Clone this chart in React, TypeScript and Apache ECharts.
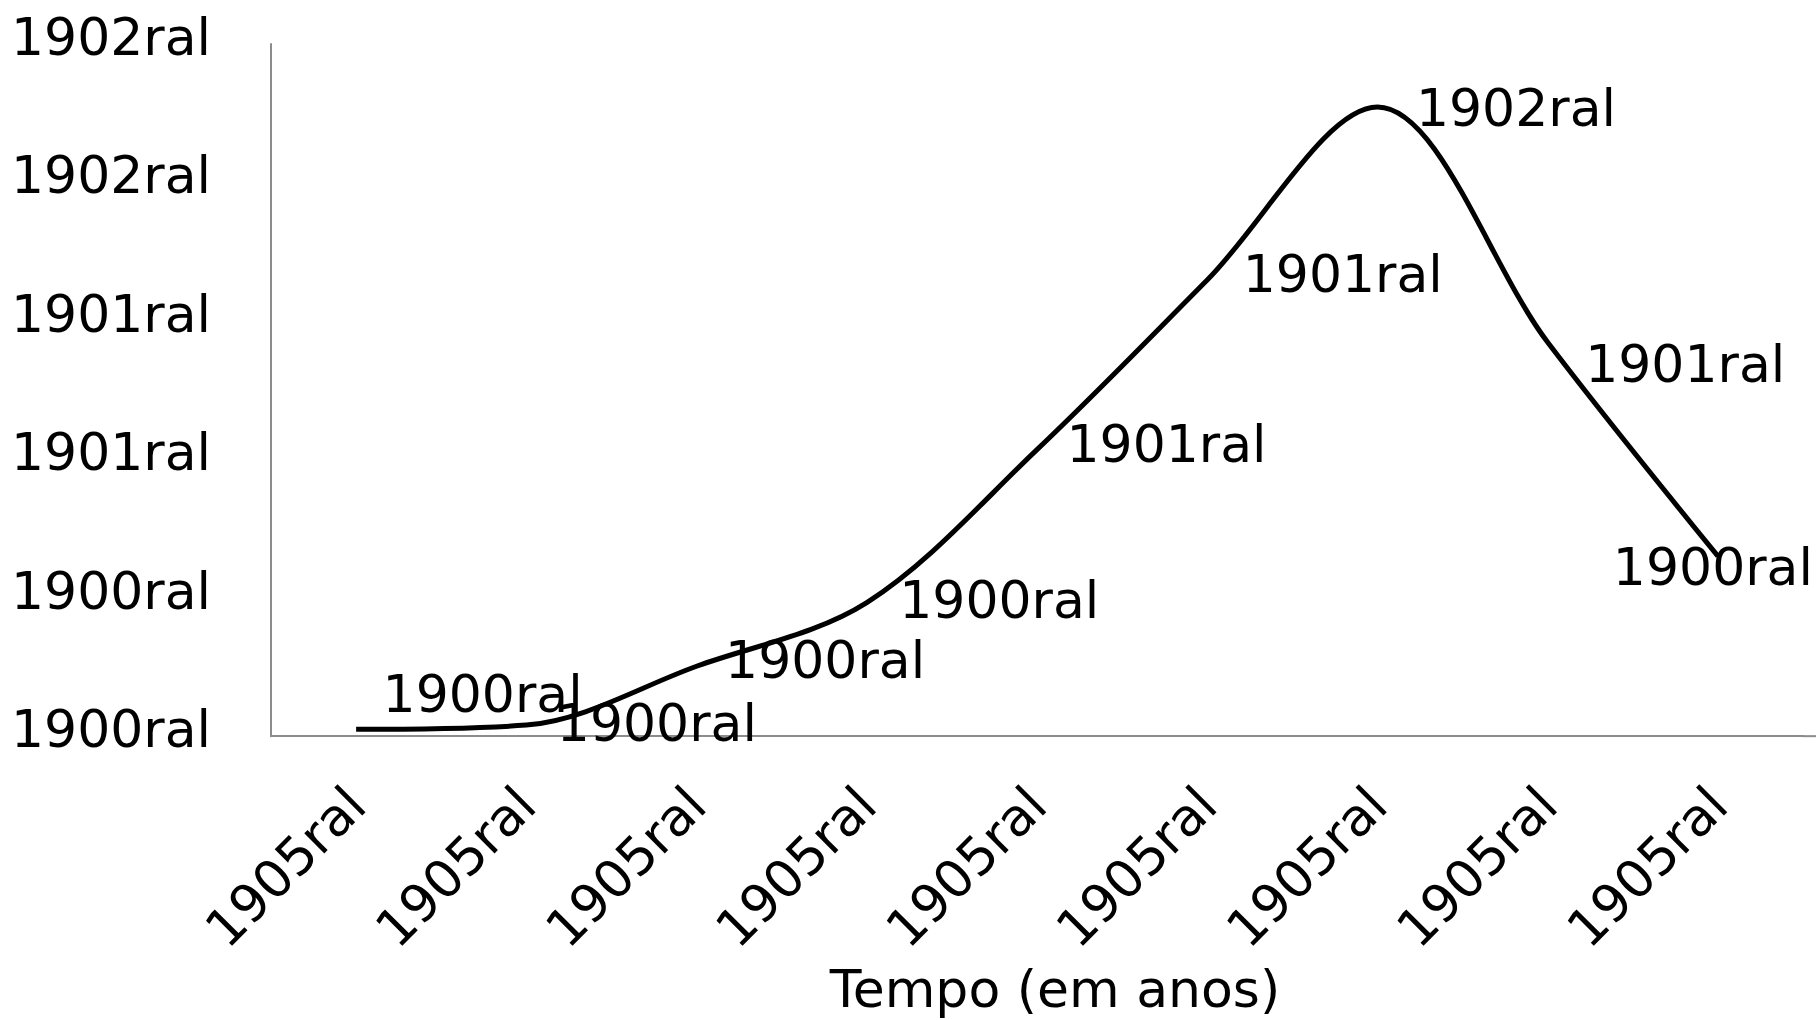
import React, { useEffect, useRef } from "react";
import * as echarts from "echarts";

// Categories (x axis) – all shown as "1905ral" in the reference
const categories: string[] = [
  "1905ral", "1905ral", "1905ral", "1905ral", "1905ral",
  "1905ral", "1905ral", "1905ral", "1905ral",
];
// Series values (axis 0..1000)
const values: number[] = [10, 16, 101, 193, 414, 659, 909, 569, 260];
// Data label texts as shown in the reference
const pointLabels: string[] = [
  "1900ral", "1900ral", "1900ral", "1900ral", "1901ral",
  "1901ral", "1902ral", "1901ral", "1900ral",
];
// Y tick labels for ticks 0,200,...,1000
const yTickLabels: string[] = ["1900ral", "1900ral", "1901ral", "1901ral", "1902ral", "1902ral"];
const yMin = 0;
const yMax = 1000;
const yInterval = 200;
const xTitle = "Tempo (em anos)";

// label placement tweaks (style)
const labelOffsets: [number, number][] = [
  [0, -35], [4, -2], [2, -6], [6, -3], [3, -6], [9, -6], [12, 1], [11, 22], [-5, 11],
];
const labelPositions: string[] = [
  "right", "right", "right", "right", "right", "right", "right", "right", "inside",
];

const FONT = "DejaVu Sans";
const FS = 52;
const AXIS_COLOR = "#8c8c8c";

export default function App() {
  const ref = useRef<HTMLDivElement>(null);
  useEffect(() => {
    if (!ref.current) return;
    const chart = echarts.init(ref.current, undefined, { renderer: "svg" });
    chart.setOption({
      animation: false,
      backgroundColor: "#ffffff",
      grid: { left: 271, right: 13, top: 44, bottom: 233, containLabel: false },
      xAxis: {
        type: "category",
        data: categories,
        boundaryGap: true,
        axisLine: { show: true, lineStyle: { color: AXIS_COLOR, width: 2 } },
        axisTick: { show: false },
        axisLabel: {
          rotate: 45,
          margin: 60,
          interval: 0,
          color: "#000",
          fontFamily: FONT,
          fontSize: FS,
        },
        name: xTitle,
        nameLocation: "middle",
        nameGap: 206,
        nameTextStyle: { color: "#000", fontFamily: FONT, fontSize: FS, padding: [0, 0, 0, 36] },
        splitLine: { show: false },
      },
      yAxis: {
        type: "value",
        min: yMin,
        max: yMax,
        interval: yInterval,
        axisLine: { show: true, lineStyle: { color: AXIS_COLOR, width: 2 } },
        axisTick: { show: false },
        splitLine: { show: false },
        axisLabel: {
          margin: 60,
          color: "#000",
          fontFamily: FONT,
          fontSize: FS,
          formatter: (v: number) =>
            "{t|" + (yTickLabels[Math.round((v - yMin) / yInterval)] ?? "") + "}",
          rich: {
            t: {
              color: "#000",
              fontFamily: FONT,
              fontSize: FS,
              padding: [0, 0, 14, 0],
            },
          },
        },
      },
      series: [
        {
          type: "line",
          smooth: 0.33,
          symbol: "circle",
          symbolSize: 1,
          showSymbol: true,
          itemStyle: { color: "rgba(0,0,0,0)" },
          lineStyle: { color: "#000", width: 5 },
          data: values.map((v, i) => ({
            value: v,
            label: {
              show: true,
              position: labelPositions[i],
              distance: 26,
              offset: labelOffsets[i],
              formatter: pointLabels[i],
              color: "#000",
              fontFamily: FONT,
              fontSize: FS,
            },
          })),
        },
      ],
    });
    // extend the x-axis line to the right edge, as in the reference
    const y0 = chart.convertToPixel({ yAxisIndex: 0 }, yMin) as number;
    const w = chart.getWidth();
    chart.setOption({
      graphic: [
        {
          type: "line",
          shape: { x1: w - 14, y1: y0, x2: w, y2: y0 },
          style: { stroke: AXIS_COLOR, lineWidth: 2 },
          silent: true,
        },
      ],
    });
    return () => chart.dispose();
  }, []);
  return (
    <div
      ref={ref}
      style={{ position: "fixed", left: 0, top: 0, width: 1816, height: 1020 }}
    />
  );
}
